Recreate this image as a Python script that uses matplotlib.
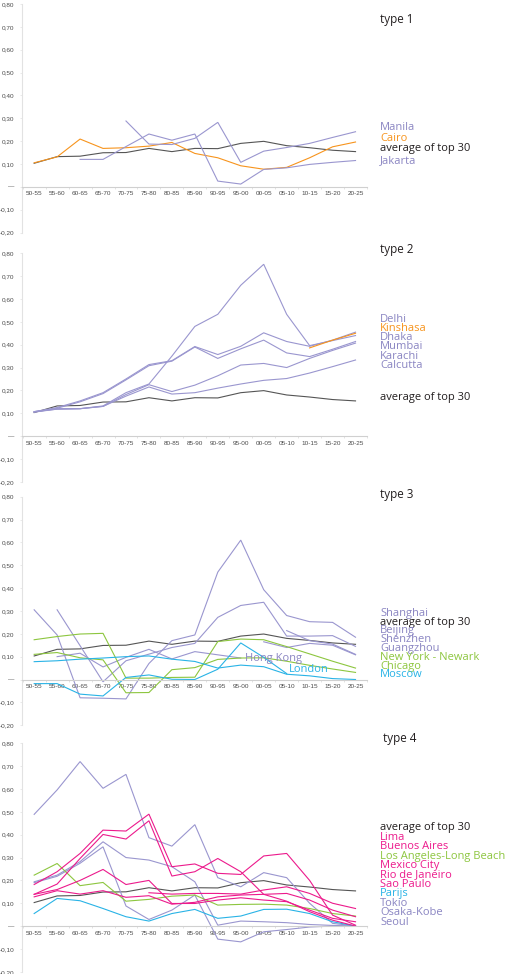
import matplotlib
matplotlib.use("Agg")
import matplotlib.pyplot as plt
import numpy as np

periods = ['50-55', '55-60', '60-65', '65-70', '70-75', '75-80', '80-85', '85-90',
           '90-95', '95-00', '00-05', '05-10', '10-15', '15-20', '20-25']
N = None

avg = [0.103, 0.132, 0.134, 0.149, 0.150, 0.168, 0.154, 0.168, 0.167, 0.190, 0.199, 0.180, 0.171, 0.160, 0.154]

# type 1
manila = [N, N, N, N, 0.288, 0.187, 0.185, 0.212, 0.282, 0.107, 0.156, 0.172, 0.190, 0.216, 0.241]
cairo = [0.105, 0.131, 0.209, 0.168, 0.171, 0.178, 0.194, 0.146, 0.127, 0.092, 0.077, 0.085, 0.127, 0.175, 0.196]
jakarta = [N, N, 0.120, 0.120, 0.176, 0.231, 0.204, 0.231, 0.025, 0.012, 0.076, 0.083, 0.098, 0.107, 0.115]

# type 2
delhi = [0.107, 0.125, 0.154, 0.190, 0.250, 0.313, 0.330, 0.392, 0.357, 0.393, 0.452, 0.414, 0.393, 0.420, 0.455]
kinshasa = [N, N, N, N, N, N, N, N, N, N, N, N, 0.386, 0.420, 0.450]
dhaka = [0.107, 0.118, 0.120, 0.132, 0.190, 0.228, 0.350, 0.480, 0.533, 0.660, 0.752, 0.533, 0.396, 0.418, 0.440]
mumbai = [0.105, 0.122, 0.150, 0.186, 0.246, 0.308, 0.328, 0.390, 0.340, 0.382, 0.420, 0.364, 0.348, 0.380, 0.414]
karachi = [0.105, 0.118, 0.120, 0.130, 0.182, 0.225, 0.195, 0.223, 0.264, 0.311, 0.318, 0.300, 0.340, 0.375, 0.407]
calcutta = [0.107, 0.120, 0.120, 0.130, 0.175, 0.215, 0.184, 0.190, 0.210, 0.228, 0.244, 0.252, 0.276, 0.304, 0.333]

# type 3
shanghai = [0.305, 0.195, -0.080, -0.082, -0.085, 0.070, 0.170, 0.195, 0.470, 0.610, 0.393, 0.280, 0.253, 0.250, 0.185]
beijing = [N, 0.305, 0.148, -0.010, 0.082, 0.111, 0.140, 0.158, 0.272, 0.324, 0.338, 0.190, 0.190, 0.192, 0.145]
shenzhen = [N, N, N, N, N, N, N, N, N, N, N, 0.214, 0.170, 0.155, 0.110]
guangzhou = [N, N, N, N, N, N, N, N, N, N, 0.165, 0.140, 0.158, 0.150, 0.108]
hongkong = [N, 0.100, 0.115, 0.055, 0.097, 0.132, 0.090, 0.122, 0.108, 0.094, N, N, N, N, N]
newyork = [0.174, 0.188, 0.199, 0.202, 0.006, 0.006, 0.009, 0.010, 0.166, 0.177, 0.174, 0.144, 0.112, 0.080, 0.050]
chicago = [0.110, 0.118, 0.095, 0.086, -0.058, -0.057, 0.043, 0.052, 0.088, 0.094, 0.095, 0.080, 0.062, 0.046, 0.031]
moscow = [0.078, 0.082, 0.089, 0.094, 0.100, 0.103, 0.089, 0.079, 0.050, 0.063, 0.056, 0.023, 0.016, 0.004, 0.000]
london = [-0.018, -0.018, -0.064, -0.072, 0.009, 0.020, 0.001, 0.000, 0.045, 0.160, 0.097, 0.026, N, N, N]

# type 4
lima = [N, N, N, N, N, 0.146, 0.140, 0.143, 0.143, 0.140, 0.158, 0.172, 0.143, 0.100, 0.077]
buenos_aires = [0.128, 0.155, 0.140, 0.155, 0.126, 0.133, 0.096, 0.104, 0.128, 0.136, 0.139, 0.143, 0.114, 0.070, 0.041]
los_angeles = [0.223, 0.274, 0.177, 0.191, 0.109, 0.117, 0.131, 0.136, 0.092, 0.095, 0.096, 0.092, 0.077, 0.055, 0.044]
mexico_city = [0.139, 0.184, 0.296, 0.401, 0.381, 0.461, 0.219, 0.238, 0.296, 0.238, 0.139, 0.109, 0.063, 0.026, 0.000]
rio = [0.139, 0.160, 0.200, 0.248, 0.182, 0.200, 0.099, 0.099, 0.114, 0.124, 0.114, 0.107, 0.070, 0.034, 0.019]
sao_paulo = [0.182, 0.238, 0.318, 0.420, 0.416, 0.490, 0.260, 0.272, 0.231, 0.226, 0.307, 0.318, 0.200, 0.048, 0.004]
parijs = [0.055, 0.121, 0.111, 0.077, 0.041, 0.022, 0.055, 0.073, 0.034, 0.044, 0.073, 0.074, 0.055, 0.019, 0.000]
tokio = [0.194, 0.223, 0.282, 0.369, 0.300, 0.289, 0.260, 0.194, 0.004, 0.022, 0.019, 0.015, 0.007, 0.003, 0.000]
osaka_kobe = [0.190, 0.218, 0.275, 0.347, 0.088, 0.029, 0.070, 0.136, -0.057, -0.069, -0.025, -0.015, -0.004, 0.000, 0.000]
seoul = [0.489, 0.596, 0.720, 0.603, 0.664, 0.387, 0.350, 0.444, 0.212, 0.172, 0.234, 0.212, 0.100, 0.012, 0.000]

yticks = [0.8, 0.7, 0.6, 0.5, 0.4, 0.3, 0.2, 0.1, 0.0, -0.1, -0.2]

PURPLE = '#9a96cf'
PURPLE_T = '#8a85c2'
ORANGE = '#f7941d'
GREEN = '#8dc63f'
CYAN = '#29b3e6'
PINK = '#ec1a8c'
AVG = '#555555'
BLACK = '#231f20'

W, H = 516, 974
fig = plt.figure(figsize=(W / 100, H / 100), dpi=100)

LABEL_FONT = ['Open Sans', 'DejaVu Sans']
TICK_FONT = ['Liberation Sans', 'DejaVu Sans']


def fmt(v):
    if abs(v) < 1e-9:
        return '\u2014'
    return ('%.2f' % v).replace('.', ',')


def make_axes(top_px):
    h_px = 228.5
    ax = fig.add_axes([22 / W, 1 - (top_px + h_px) / H, 345 / W, h_px / H])
    ax.set_xlim(-0.53, 14.47)
    ax.set_ylim(-0.2, 0.8)
    ax.patch.set_alpha(0)
    for s in ['top', 'right']:
        ax.spines[s].set_visible(False)
    ax.spines['left'].set_color('#e2e2e2')
    ax.spines['left'].set_linewidth(0.8)
    ax.spines['bottom'].set_position(('data', 0))
    ax.spines['bottom'].set_color('#d0d0d0')
    ax.spines['bottom'].set_linewidth(0.8)
    ax.set_xticks(range(len(periods)))
    ax.set_xticklabels(periods, fontsize=4.6, color='#4a4a4a', family=TICK_FONT)
    ax.set_xticks(np.arange(-0.5, len(periods), 1.0), minor=True)
    ax.tick_params(axis='x', which='major', length=0, pad=3.2)
    ax.tick_params(axis='x', which='minor', length=1.5, color='#d8d8d8', width=0.5)
    ax.set_yticks(yticks)
    ax.set_yticklabels([fmt(v) for v in yticks], fontsize=4.6, color='#4a4a4a', family=TICK_FONT)
    ax.tick_params(axis='y', length=1.5, color='#e2e2e2', width=0.5, pad=4)
    return ax


def series(ax, vals, color, lw=0.8):
    x = [i for i, v in enumerate(vals) if v is not None]
    y = [v for v in vals if v is not None]
    ax.plot(x, y, color=color, lw=lw, solid_joinstyle='miter')


def label(x_px, y_px, text, color, size=8.0):
    fig.text(x_px / W, 1 - y_px / H, text, color=color, fontsize=size,
             family=LABEL_FONT, ha='left', va='center')


LX = 380

# ---- type 1
ax1 = make_axes(4)
series(ax1, avg, AVG)
series(ax1, cairo, ORANGE)
series(ax1, manila, PURPLE)
series(ax1, jakarta, PURPLE)
label(LX, 19, 'type 1', BLACK, 8.4)
label(LX, 127.3, 'Manila', PURPLE_T)
label(LX, 138.3, 'Cairo', ORANGE)
label(LX, 149, 'average of top 30', BLACK)
label(LX, 160.3, 'Jakarta', PURPLE_T)

# ---- type 2
ax2 = make_axes(253.3)
series(ax2, avg, AVG)
for s in [calcutta, karachi, mumbai, delhi, dhaka]:
    series(ax2, s, PURPLE)
series(ax2, kinshasa, ORANGE)
label(LX, 249.3, 'type 2', BLACK, 8.4)
y0 = 319
for i, (t, c) in enumerate([('Delhi', PURPLE_T), ('Kinshasa', ORANGE), ('Dhaka', PURPLE_T),
                             ('Mumbai', PURPLE_T), ('Karachi', PURPLE_T), ('Calcutta', PURPLE_T)]):
    label(LX, y0 + i * 9.3, t, c)
label(LX, 397.3, 'average of top 30', BLACK)

# ---- type 3
ax3 = make_axes(496.7)
series(ax3, avg, AVG)
for s in [shanghai, beijing, shenzhen, guangzhou, hongkong]:
    series(ax3, s, PURPLE)
series(ax3, newyork, GREEN)
series(ax3, chicago, GREEN)
series(ax3, moscow, CYAN)
series(ax3, london, CYAN)
label(LX, 494.3, 'type 3', BLACK, 8.4)
items3 = [('Shanghai', PURPLE_T), ('average of top 30', BLACK), ('Beijing', PURPLE_T),
          ('Shenzhen', PURPLE_T), ('Guangzhou', PURPLE_T), ('New York - Newark', GREEN),
          ('Chicago', GREEN), ('Moscow', CYAN)]
for i, (t, c) in enumerate(items3):
    label(LX, 613.3 + i * 8.8, t, c)
label(245, 659, 'Hong Kong', PURPLE_T)
label(288.5, 669.3, 'London', CYAN)

# ---- type 4
ax4 = make_axes(743.3)
series(ax4, avg, AVG)
for s in [seoul, tokio, osaka_kobe]:
    series(ax4, s, PURPLE)
series(ax4, parijs, CYAN)
series(ax4, los_angeles, GREEN)
for s in [sao_paulo, mexico_city, rio, buenos_aires, lima]:
    series(ax4, s, PINK)
label(383, 738.3, 'type 4', BLACK, 8.4)
items4 = [('average of top 30', BLACK), ('Lima', PINK), ('Buenos Aires', PINK),
          ('Los Angeles-Long Beach', GREEN), ('Mexico City', PINK), ('Rio de Janeiro', PINK),
          ('Sao Paulo', PINK), ('Parijs', CYAN), ('Tokio', PURPLE_T), ('Osaka-Kobe', PURPLE_T),
          ('Seoul', PURPLE_T)]
for i, (t, c) in enumerate(items4):
    label(LX, 827.7 + i * 9.45, t, c)

fig.savefig('out.png', dpi=100)
